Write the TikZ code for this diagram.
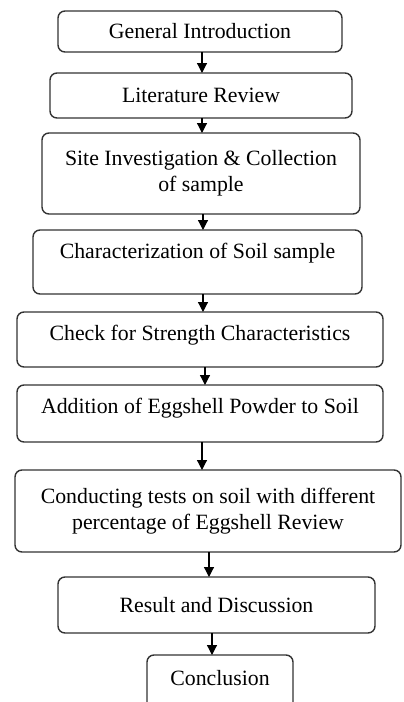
\documentclass[tikz,border=0pt]{standalone}
\usepackage{fontspec}
\setmainfont{Liberation Serif}
\usetikzlibrary{positioning,arrows.meta}

\begin{document}
\begin{tikzpicture}[auto, node distance=10pt,
                    stage/.style={rectangle,rounded corners=3.5pt,draw=black!80,line width=0.7pt,
                                  align=center,inner sep=2pt,outer sep=0pt,fill=white,
                                  font=\fontsize{10.9}{13}\selectfont},
                    flow/.style={-{Triangle[length=5pt,width=5pt]},line width=0.6pt}]

  \useasboundingbox (-100pt,15.75pt) rectangle (101.5pt,-335.25pt);
  \clip (-100pt,15.75pt) rectangle (101.5pt,-335.25pt);

  \node[stage,minimum width=142pt,minimum height=20.5pt] (intro) at (0,0) {General Introduction};
  \node[stage,minimum width=151pt,minimum height=22.5pt] (review) [below=10.5pt of intro,xshift=0.5pt] {Literature Review};
  \node[stage,minimum width=159pt,minimum height=40.5pt] (site) [below=7.5pt of review] {Site Investigation \& Collection\\of sample};
  \node[stage,minimum width=164.5pt,minimum height=32pt,text depth=11.4pt] (soil) [below=8pt of site,xshift=-1.75pt] {Characterization of Soil sample};
  \node[stage,minimum width=183pt,minimum height=27.5pt,text depth=6.9pt] (strength) [below=9pt of soil,xshift=1.25pt] {Check for Strength Characteristics};
  \node[stage,minimum width=183pt,minimum height=28.5pt,text depth=7.9pt] (powder) [below=9pt of strength] {Addition of Eggshell Powder to Soil};
  \node[stage,minimum width=193pt,minimum height=41pt] (tests) [below=14pt of powder,xshift=4pt] {Conducting tests on soil with different\\percentage of Eggshell Review};
  \node[stage,minimum width=158.5pt,minimum height=28pt] (result) [below=12.5pt of tests,xshift=4.25pt] {Result and Discussion};
  \node[stage,minimum width=73pt,minimum height=35pt,text depth=12pt] (concl) [below=11pt of result,xshift=1.75pt] {Conclusion};

  \path[flow]
    ([xshift=1pt]intro.south) edge ([xshift=1pt]intro.south |- review.north)
    ([xshift=0.5pt]review.south) edge ([xshift=0.5pt]review.south |- site.north)
    ([xshift=1pt]site.south) edge ([xshift=1pt]site.south |- soil.north)
    ([xshift=2.75pt]soil.south) edge ([xshift=2.75pt]soil.south |- strength.north)
    ([xshift=2.5pt]strength.south) edge ([xshift=2.5pt]strength.south |- powder.north)
    ([xshift=1pt]powder.south) edge ([xshift=1pt]powder.south |- tests.north)
    ([xshift=0.5pt]tests.south) edge ([xshift=0.5pt]tests.south |- result.north)
    ([xshift=-2.25pt]result.south) edge ([xshift=-2.25pt]result.south |- concl.north)
;
\end{tikzpicture}
\end{document}
